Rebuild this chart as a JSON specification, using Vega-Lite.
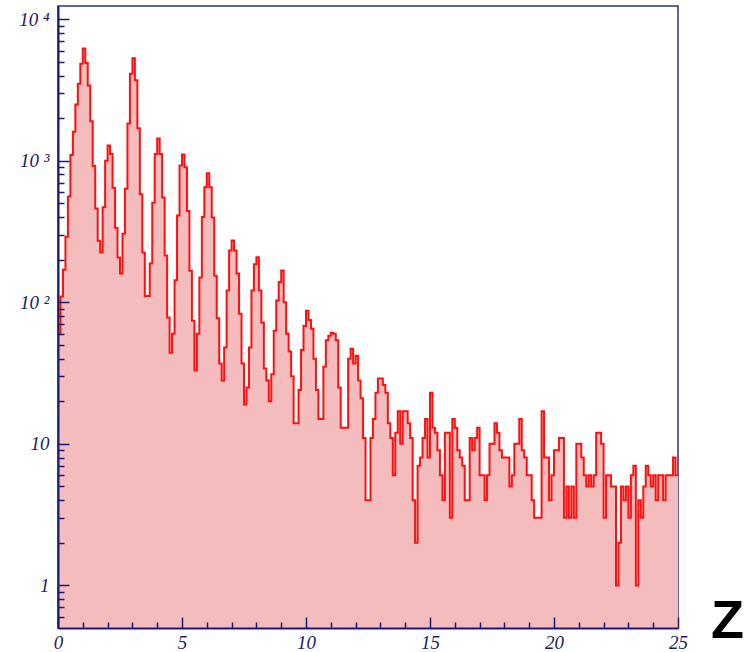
{
  "$schema": "https://vega.github.io/schema/vega-lite/v6.json",
  "width": 620,
  "height": 622,
  "autosize": {"type": "none"},
  "padding": {"left": 58, "top": 6, "right": 75, "bottom": 24},
  "background": "white",
  "config": {"view": {"stroke": "#2e2e80", "strokeWidth": 1.5}},
  "data": {"values": [
    {"z":0.0,"n":60},{"z":0.1,"n":110},{"z":0.2,"n":170},{"z":0.3,"n":290},{"z":0.4,"n":560},
    {"z":0.5,"n":1100},{"z":0.6,"n":1600},{"z":0.7,"n":2500},{"z":0.8,"n":3500},{"z":0.9,"n":4850},
    {"z":1.0,"n":6200},{"z":1.1,"n":4900},{"z":1.2,"n":3400},{"z":1.3,"n":1900},{"z":1.4,"n":920},
    {"z":1.5,"n":460},{"z":1.6,"n":272},{"z":1.7,"n":225},{"z":1.8,"n":470},{"z":1.9,"n":1000},
    {"z":2.0,"n":1280},{"z":2.1,"n":1115},{"z":2.2,"n":645},{"z":2.3,"n":337},{"z":2.4,"n":207},
    {"z":2.5,"n":160},{"z":2.6,"n":305},{"z":2.7,"n":635},{"z":2.8,"n":1830},{"z":2.9,"n":4120},
    {"z":3.0,"n":5300},{"z":3.1,"n":3700},{"z":3.2,"n":1700},{"z":3.3,"n":580},{"z":3.4,"n":225},
    {"z":3.5,"n":111},{"z":3.6,"n":111},{"z":3.7,"n":188},{"z":3.8,"n":505},{"z":3.9,"n":1115},
    {"z":4.0,"n":1435},{"z":4.1,"n":1115},{"z":4.2,"n":550},{"z":4.3,"n":214},{"z":4.4,"n":78},
    {"z":4.5,"n":44},{"z":4.6,"n":60},{"z":4.7,"n":143},{"z":4.8,"n":410},{"z":4.9,"n":925},
    {"z":5.0,"n":1107},{"z":5.1,"n":900},{"z":5.2,"n":442},{"z":5.3,"n":167},{"z":5.4,"n":74},
    {"z":5.5,"n":33},{"z":5.6,"n":60},{"z":5.7,"n":150},{"z":5.8,"n":400},{"z":5.9,"n":650},
    {"z":6.0,"n":816},{"z":6.1,"n":650},{"z":6.2,"n":398},{"z":6.3,"n":154},{"z":6.4,"n":77},
    {"z":6.5,"n":37},{"z":6.6,"n":28},{"z":6.7,"n":48},{"z":6.8,"n":121},{"z":6.9,"n":232},
    {"z":7.0,"n":273},{"z":7.1,"n":232},{"z":7.2,"n":160},{"z":7.3,"n":83},{"z":7.4,"n":37},
    {"z":7.5,"n":19},{"z":7.6,"n":25},{"z":7.7,"n":48},{"z":7.8,"n":121},{"z":7.9,"n":186},
    {"z":8.0,"n":208},{"z":8.1,"n":121},{"z":8.2,"n":72},{"z":8.3,"n":34},{"z":8.4,"n":28},
    {"z":8.5,"n":20},{"z":8.6,"n":31},{"z":8.7,"n":63},{"z":8.8,"n":103},{"z":8.9,"n":139},
    {"z":9.0,"n":168},{"z":9.1,"n":100},{"z":9.2,"n":60},{"z":9.3,"n":45},{"z":9.4,"n":30},
    {"z":9.5,"n":14},{"z":9.6,"n":14},{"z":9.7,"n":24},{"z":9.8,"n":46},{"z":9.9,"n":68},
    {"z":10.0,"n":87},{"z":10.1,"n":75},{"z":10.2,"n":65},{"z":10.3,"n":40},{"z":10.4,"n":24},
    {"z":10.5,"n":15},{"z":10.6,"n":15},{"z":10.7,"n":35},{"z":10.8,"n":54},{"z":10.9,"n":58},
    {"z":11.0,"n":61},{"z":11.1,"n":60},{"z":11.2,"n":54},{"z":11.3,"n":25},{"z":11.4,"n":13},
    {"z":11.5,"n":13},{"z":11.6,"n":13},{"z":11.7,"n":40},{"z":11.8,"n":47},{"z":11.9,"n":37},
    {"z":12.0,"n":42},{"z":12.1,"n":28},{"z":12.2,"n":21},{"z":12.3,"n":11},{"z":12.4,"n":4},
    {"z":12.5,"n":4},{"z":12.6,"n":11},{"z":12.7,"n":15},{"z":12.8,"n":23},{"z":12.9,"n":29},
    {"z":13.0,"n":29},{"z":13.1,"n":26},{"z":13.2,"n":23},{"z":13.3,"n":14},{"z":13.4,"n":11},
    {"z":13.5,"n":6},{"z":13.6,"n":12},{"z":13.7,"n":17},{"z":13.8,"n":10},{"z":13.9,"n":17},
    {"z":14.0,"n":17},{"z":14.1,"n":14},{"z":14.2,"n":11},{"z":14.3,"n":4},{"z":14.4,"n":2},
    {"z":14.5,"n":7},{"z":14.6,"n":8},{"z":14.7,"n":11},{"z":14.8,"n":15},{"z":14.9,"n":8},
    {"z":15.0,"n":23},{"z":15.1,"n":13},{"z":15.2,"n":12},{"z":15.3,"n":9},{"z":15.4,"n":6},
    {"z":15.5,"n":4},{"z":15.6,"n":12},{"z":15.7,"n":12},{"z":15.8,"n":3},{"z":15.9,"n":15},
    {"z":16.0,"n":13},{"z":16.1,"n":9},{"z":16.2,"n":8},{"z":16.3,"n":7},{"z":16.4,"n":4},
    {"z":16.5,"n":4},{"z":16.6,"n":11},{"z":16.7,"n":9},{"z":16.8,"n":11},{"z":16.9,"n":13},
    {"z":17.0,"n":6},{"z":17.1,"n":6},{"z":17.2,"n":4},{"z":17.3,"n":6},{"z":17.4,"n":10},
    {"z":17.5,"n":10},{"z":17.6,"n":14},{"z":17.7,"n":12},{"z":17.8,"n":9},{"z":17.9,"n":8},
    {"z":18.0,"n":8},{"z":18.1,"n":8},{"z":18.2,"n":5},{"z":18.3,"n":6},{"z":18.4,"n":10},
    {"z":18.5,"n":10},{"z":18.6,"n":15},{"z":18.7,"n":9},{"z":18.8,"n":8},{"z":18.9,"n":6},
    {"z":19.0,"n":6},{"z":19.1,"n":4},{"z":19.2,"n":3},{"z":19.3,"n":3},{"z":19.4,"n":3},
    {"z":19.5,"n":17},{"z":19.6,"n":8},{"z":19.7,"n":8},{"z":19.8,"n":4},{"z":19.9,"n":6},
    {"z":20.0,"n":9},{"z":20.1,"n":9},{"z":20.2,"n":11},{"z":20.3,"n":11},{"z":20.4,"n":3},
    {"z":20.5,"n":5},{"z":20.6,"n":3},{"z":20.7,"n":5},{"z":20.8,"n":3},{"z":20.9,"n":10},
    {"z":21.0,"n":10},{"z":21.1,"n":8},{"z":21.2,"n":6},{"z":21.3,"n":5},{"z":21.4,"n":6},
    {"z":21.5,"n":5},{"z":21.6,"n":6},{"z":21.7,"n":12},{"z":21.8,"n":12},{"z":21.9,"n":10},
    {"z":22.0,"n":3},{"z":22.1,"n":6},{"z":22.2,"n":6},{"z":22.3,"n":5},{"z":22.4,"n":5},
    {"z":22.5,"n":1},{"z":22.6,"n":2},{"z":22.7,"n":5},{"z":22.8,"n":4},{"z":22.9,"n":5},
    {"z":23.0,"n":3},{"z":23.1,"n":6},{"z":23.2,"n":7},{"z":23.3,"n":1},{"z":23.4,"n":4},
    {"z":23.5,"n":3},{"z":23.6,"n":5},{"z":23.7,"n":7},{"z":23.8,"n":6},{"z":23.9,"n":5},
    {"z":24.0,"n":6},{"z":24.1,"n":4},{"z":24.2,"n":6},{"z":24.3,"n":6},{"z":24.4,"n":4},
    {"z":24.5,"n":6},{"z":24.6,"n":6},{"z":24.7,"n":6},{"z":24.8,"n":8},{"z":24.9,"n":6},
    {"z":25.0,"n":6}
  ]},
  "resolve": {"axis": {"x": "independent", "y": "independent"}},
  "layer": [
    {
      "mark": {"type": "area", "interpolate": "step-after", "fill": "#f4bcbc", "clip": true},
      "encoding": {
        "x": {
          "field": "z", "type": "quantitative",
          "scale": {"domain": [0, 25], "nice": false, "zero": false},
          "axis": {
            "orient": "bottom", "values": [0, 5, 10, 15, 20, 25], "grid": false, "zindex": 1,
            "tickSize": -11, "tickColor": "#1a1a6e", "tickWidth": 1.5,
            "domainColor": "#1a1a6e", "domainWidth": 2,
            "labelFont": "Liberation Serif", "labelFontStyle": "italic", "labelFontSize": 19,
            "labelColor": "#1a1a6e", "labelPadding": 16, "labelFlush": false, "labelOverlap": false,
            "title": "Z", "titleFont": "Liberation Sans", "titleFontWeight": "bold", "titleFontSize": 54,
            "titleColor": "#000000", "titleX": 669, "titleY": 9, "titleAlign": "center",
            "titleBaseline": "alphabetic", "titleAnchor": null
          }
        },
        "y": {
          "field": "n", "type": "quantitative",
          "scale": {"type": "log", "domain": [0.5, 12400], "nice": false},
          "axis": {
            "orient": "left", "values": [1, 10, 100, 1000, 10000], "grid": false, "zindex": 1,
            "labelExpr": "datum.value == 10000 ? '10 ⁴' : datum.value == 1000 ? '10 ³' : datum.value == 100 ? '10 ²' : datum.value == 10 ? '10' : '1'",
            "tickSize": -11, "tickColor": "#1a1a6e", "tickWidth": 1.5,
            "domainColor": "#1a1a6e", "domainWidth": 2,
            "labelFont": "Liberation Serif", "labelFontStyle": "italic", "labelFontSize": 19,
            "labelColor": "#1a1a6e", "labelPadding": 20, "labelFlush": false, "labelOverlap": false,
            "title": null
          }
        },
        "y2": {"datum": 0.5}
      }
    },
    {
      "mark": {"type": "line", "interpolate": "step-after", "color": "#ff1010", "strokeWidth": 2, "clip": true},
      "encoding": {
        "x": {
          "field": "z", "type": "quantitative",
          "axis": {
            "orient": "bottom", "values": [1,2,3,4,6,7,8,9,11,12,13,14,16,17,18,19,21,22,23,24],
            "grid": false, "zindex": 1, "labels": false, "domain": false, "title": null,
            "tickSize": -6, "tickColor": "#1a1a6e", "tickWidth": 1.5
          }
        },
        "y": {
          "field": "n", "type": "quantitative",
          "axis": {
            "orient": "left",
            "values": [0.6,0.7,0.8,0.9,2,3,4,5,6,7,8,9,20,30,40,50,60,70,80,90,200,300,400,500,600,700,800,900,2000,3000,4000,5000,6000,7000,8000,9000],
            "grid": false, "zindex": 1, "labels": false, "domain": false, "title": null,
            "tickSize": -6, "tickColor": "#1a1a6e", "tickWidth": 1.5
          }
        }
      }
    }
  ]
}
